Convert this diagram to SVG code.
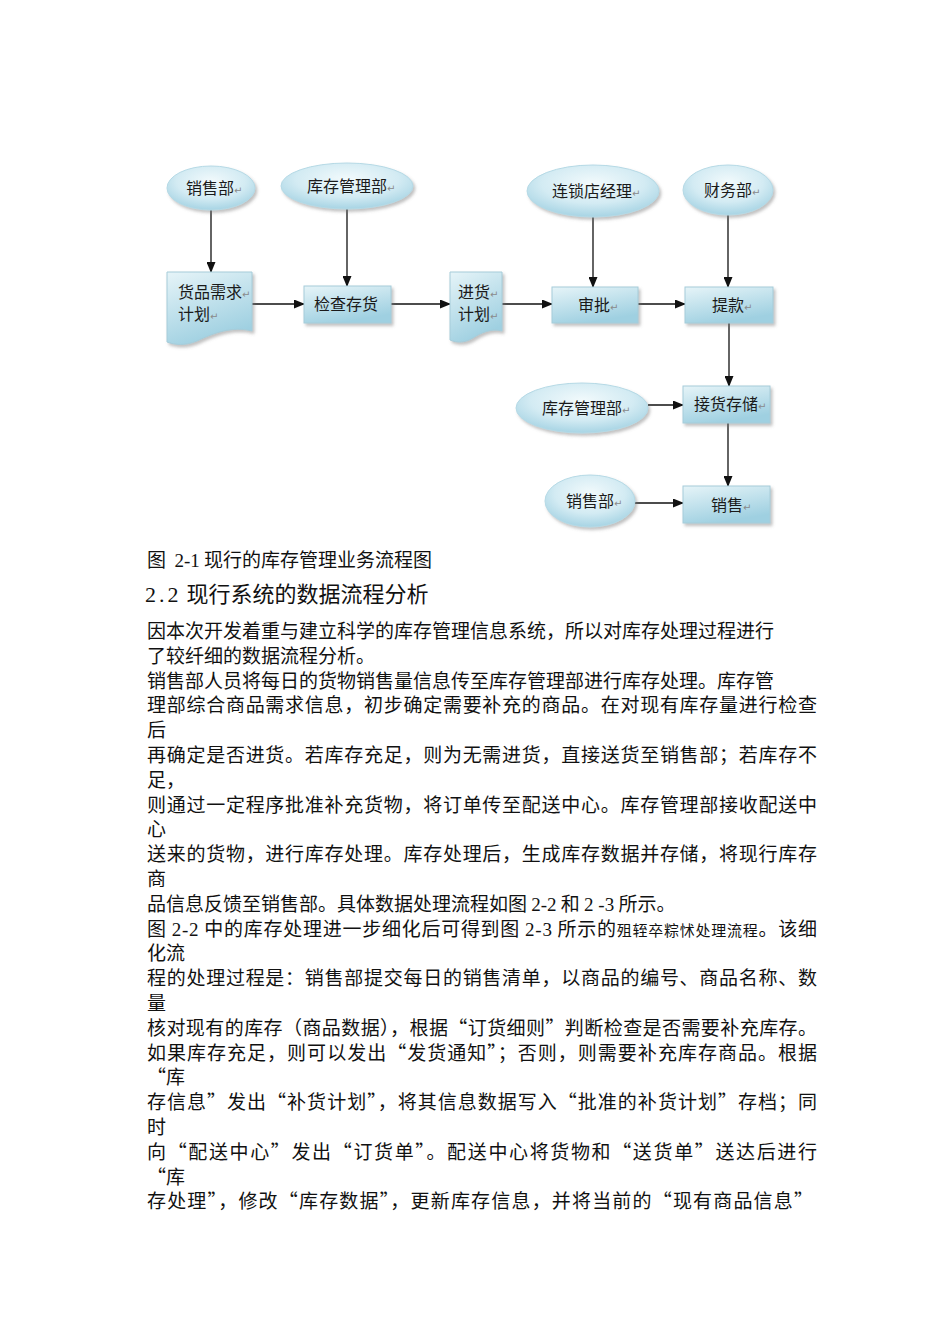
<svg xmlns="http://www.w3.org/2000/svg" width="950" height="1344" viewBox="0 0 950 1344">
<style>
.lbl{font-family:'Noto Sans CJK SC','Noto Sans',sans-serif;font-size:16px;fill:#1a1a1a}
.ret{font-family:'DejaVu Sans',sans-serif;font-size:10px;fill:#8a8a8a}
.box{fill:url(#gBox);stroke:#a6ccd9;stroke-width:1;filter:url(#sh)}
.ell{fill:url(#gEll);stroke:#b5d9e5;stroke-width:1;filter:url(#sh)}
.con{stroke:#111;stroke-width:1.3;fill:none;marker-end:url(#ah)}
.body{font-family:'Noto Sans CJK SC','Liberation Serif',sans-serif;font-size:19px;fill:#111}
.lat{font-family:'Liberation Serif',serif}
.sm{font-size:15px}
.h{font-family:'Noto Sans CJK SC','Liberation Serif',sans-serif;font-size:22px;fill:#111}
</style>
<defs>
<linearGradient id="gBox" x1="0" y1="0" x2="0.4" y2="1">
<stop offset="0" stop-color="#e6f4f8"/>
<stop offset="1" stop-color="#9fd0e1"/>
</linearGradient>
<radialGradient id="gEll" cx="0.5" cy="0.35" r="0.65">
<stop offset="0" stop-color="#f2fafc"/>
<stop offset="0.6" stop-color="#d3ebf3"/>
<stop offset="1" stop-color="#a7d4e4"/>
</radialGradient>
<filter id="sh" x="-20%" y="-20%" width="150%" height="150%">
<feDropShadow dx="2" dy="2.5" stdDeviation="1.8" flood-color="#777" flood-opacity="0.45"/>
</filter>
<marker id="ah" markerUnits="userSpaceOnUse" markerWidth="11" markerHeight="9" refX="10" refY="4.5" orient="auto">
<path d="M0,0 L11,4.5 L0,9 z" fill="#111"/>
</marker>
</defs>

<g id="connectors">
<line class="con" x1="211" y1="210" x2="211" y2="272"/>
<line class="con" x1="347" y1="208" x2="347" y2="286"/>
<line class="con" x1="252" y1="304" x2="304" y2="304"/>
<line class="con" x1="391" y1="304" x2="450" y2="304"/>
<line class="con" x1="502" y1="304" x2="552" y2="304"/>
<line class="con" x1="593" y1="217" x2="593" y2="287"/>
<line class="con" x1="638" y1="304" x2="685" y2="304"/>
<line class="con" x1="728" y1="215" x2="728" y2="287"/>
<line class="con" x1="729" y1="323" x2="729" y2="386"/>
<line class="con" x1="648" y1="405" x2="683" y2="405"/>
<line class="con" x1="728" y1="423" x2="728" y2="486"/>
<line class="con" x1="635" y1="503" x2="683" y2="503"/>
</g>

<g id="n-sales-top">
<ellipse class="ell" cx="211" cy="188" rx="44" ry="22"/>
<text class="lbl" x="186" y="194">销售部<tspan class="ret">↵</tspan></text>
</g>
<g id="n-inv-top">
<ellipse class="ell" cx="347" cy="186" rx="66" ry="23"/>
<text class="lbl" x="307" y="192">库存管理部<tspan class="ret">↵</tspan></text>
</g>
<g id="n-manager">
<ellipse class="ell" cx="593" cy="191" rx="66" ry="26"/>
<text class="lbl" x="552" y="197">连锁店经理<tspan class="ret">↵</tspan></text>
</g>
<g id="n-finance">
<ellipse class="ell" cx="728" cy="190" rx="45" ry="25"/>
<text class="lbl" x="704" y="196">财务部<tspan class="ret">↵</tspan></text>
</g>
<g id="n-demand">
<path class="box" d="M167,272 H252 V331 C232,326 214,333 197,341 C185,346 175,345 167,342 Z"/>
<text class="lbl" x="178" y="298">货品需求<tspan class="ret">↵</tspan></text>
<text class="lbl" x="178" y="320">计划<tspan class="ret">↵</tspan></text>
</g>
<g id="n-check">
<rect class="box" x="304" y="286" width="87" height="37"/>
<text class="lbl" x="314" y="310">检查存货</text>
</g>
<g id="n-plan">
<path class="box" d="M450,272 H502 V331 C491,328 481,333 473,338 C465,343 457,343 450,340 Z"/>
<text class="lbl" x="458" y="298">进货<tspan class="ret">↵</tspan></text>
<text class="lbl" x="458" y="320">计划<tspan class="ret">↵</tspan></text>
</g>
<g id="n-approve">
<rect class="box" x="552" y="287" width="86" height="36"/>
<text class="lbl" x="578" y="311">审批<tspan class="ret">↵</tspan></text>
</g>
<g id="n-withdraw">
<rect class="box" x="685" y="287" width="88" height="36"/>
<text class="lbl" x="712" y="311">提款<tspan class="ret">↵</tspan></text>
</g>
<g id="n-inv-low">
<ellipse class="ell" cx="582" cy="408" rx="66" ry="25"/>
<text class="lbl" x="542" y="414">库存管理部<tspan class="ret">↵</tspan></text>
</g>
<g id="n-receive">
<rect class="box" x="683" y="386" width="87" height="37"/>
<text class="lbl" x="694" y="410">接货存储<tspan class="ret">↵</tspan></text>
</g>
<g id="n-sales-low">
<ellipse class="ell" cx="590" cy="501" rx="45" ry="26"/>
<text class="lbl" x="566" y="507">销售部<tspan class="ret">↵</tspan></text>
</g>
<g id="n-sell">
<rect class="box" x="683" y="486" width="87" height="37"/>
<text class="lbl" x="711" y="511">销售<tspan class="ret">↵</tspan></text>
</g>

<g id="caption">
<text class="body" x="147" y="567" xml:space="preserve">图  <tspan class="lat">2-1</tspan> 现行的库存管理业务流程图</text>
<text class="h" x="145" y="602"><tspan class="lat" letter-spacing="3">2.2</tspan> 现行系统的数据流程分析</text>
</g>

<g id="body">
<text class="body" x="147" y="638">因本次开发着重与建立科学的库存管理信息系统，所以对库存处理过程进行</text>
<text class="body" x="147" y="662.8">了较纤细的数据流程分析。</text>
<text class="body" x="147" y="687.6">销售部人员将每日的货物销售量信息传至库存管理部进行库存处理。库存管</text>
<text class="body" x="147" y="712.4" textLength="670" lengthAdjust="spacing">理部综合商品需求信息，初步确定需要补充的商品。在对现有库存量进行检查</text>
<text class="body" x="147" y="737.2">后</text>
<text class="body" x="147" y="762" textLength="670" lengthAdjust="spacing">再确定是否进货。若库存充足，则为无需进货，直接送货至销售部；若库存不</text>
<text class="body" x="147" y="786.8">足，</text>
<text class="body" x="147" y="811.6" textLength="670" lengthAdjust="spacing">则通过一定程序批准补充货物，将订单传至配送中心。库存管理部接收配送中</text>
<text class="body" x="147" y="836.4">心</text>
<text class="body" x="147" y="861.2" textLength="670" lengthAdjust="spacing">送来的货物，进行库存处理。库存处理后，生成库存数据并存储，将现行库存</text>
<text class="body" x="147" y="886">商</text>
<text class="body" x="147" y="910.8" xml:space="preserve">品信息反馈至销售部。具体数据处理流程如图 <tspan class="lat">2-2</tspan> 和 <tspan class="lat">2 -3</tspan> 所示。</text>
<text class="body" x="147" y="935.6" textLength="670" lengthAdjust="spacing" xml:space="preserve">图 <tspan class="lat">2-2</tspan> 中的库存处理进一步细化后可得到图 <tspan class="lat">2-3</tspan> 所示的<tspan class="sm">殂轾卒粽怵处理流程</tspan>。该细</text>
<text class="body" x="147" y="960.4">化流</text>
<text class="body" x="147" y="985.2" textLength="670" lengthAdjust="spacing">程的处理过程是：销售部提交每日的销售清单，以商品的编号、商品名称、数</text>
<text class="body" x="147" y="1010">量</text>
<text class="body" x="147" y="1034.8" textLength="670" lengthAdjust="spacing">核对现有的库存（商品数据），根据“订货细则”判断检查是否需要补充库存。</text>
<text class="body" x="147" y="1059.6" textLength="670" lengthAdjust="spacing">如果库存充足，则可以发出“发货通知”；否则，则需要补充库存商品。根据</text>
<text class="body" x="147" y="1084.4">“库</text>
<text class="body" x="147" y="1109.2" textLength="670" lengthAdjust="spacing">存信息”发出“补货计划”，将其信息数据写入“批准的补货计划”存档；同</text>
<text class="body" x="147" y="1134">时</text>
<text class="body" x="147" y="1158.8" textLength="670" lengthAdjust="spacing">向“配送中心”发出“订货单”。配送中心将货物和“送货单”送达后进行</text>
<text class="body" x="147" y="1183.6">“库</text>
<text class="body" x="147" y="1208.4" textLength="666" lengthAdjust="spacing">存处理”，修改“库存数据”，更新库存信息，并将当前的“现有商品信息”</text>
</g>
</svg>
